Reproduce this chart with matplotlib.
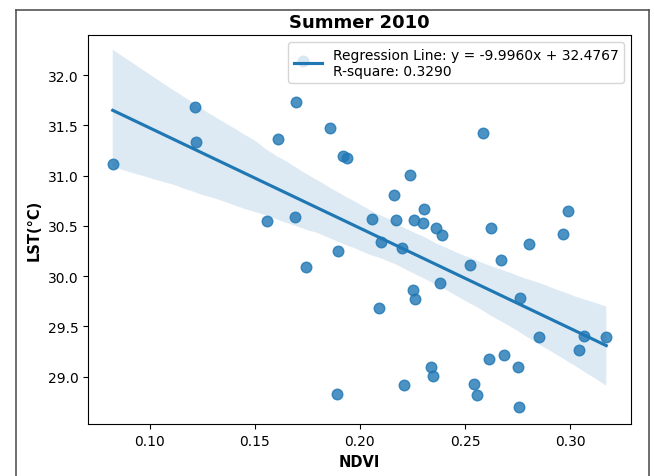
import numpy as np
import matplotlib
matplotlib.use("Agg")
import matplotlib.pyplot as plt
from matplotlib.lines import Line2D
import seaborn as sns

# =========================================================
# DONNEES
# =========================================================

ndvi = [0.0825, 0.1214, 0.1220, 0.1610, 0.1560, 0.1730, 0.1695, 0.1857, 0.1918, 0.1937,
        0.2240, 0.2160, 0.2306, 0.1690, 0.2056, 0.2170, 0.2259, 0.2300, 0.2360, 0.2390,
        0.2587, 0.2987, 0.2624, 0.2964, 0.1746, 0.1895, 0.2098, 0.2198, 0.2524, 0.2380,
        0.2254, 0.2260, 0.2092, 0.2338, 0.2348, 0.2208, 0.1890, 0.2540, 0.2556, 0.2805,
        0.2670, 0.2759, 0.2852, 0.3065, 0.3171, 0.3040, 0.2614, 0.2687, 0.2749, 0.2754]

lst = [31.120, 31.685, 31.340, 31.370, 30.550, 32.140, 31.730, 31.470, 31.200, 31.180,
       31.005, 30.810, 30.670, 30.585, 30.570, 30.555, 30.555, 30.530, 30.475, 30.410,
       31.430, 30.647, 30.478, 30.425, 30.093, 30.250, 30.340, 30.280, 30.116, 29.937,
       29.864, 29.771, 29.685, 29.095, 29.008, 28.915, 28.830, 28.925, 28.820, 30.325,
       30.166, 29.780, 29.396, 29.406, 29.396, 29.270, 29.177, 29.217, 29.100, 28.700]

title = "Summer 2010"
legend_label = "Regression Line: y = -9.9960x + 32.4767\nR-square: 0.3290"

# =========================================================
# FIGURE
# =========================================================

fig = plt.figure(figsize=(6.54, 4.77), dpi=100)
ax = fig.add_axes([0.1346, 0.108, 0.8302, 0.8165])

sns.regplot(x=np.array(ndvi), y=np.array(lst), ax=ax, ci=95, seed=3,
            scatter_kws={"s": 58},
            line_kws={"label": legend_label})

ax.set_title(title, fontsize=13, fontweight="bold")
ax.set_xlabel("NDVI", fontsize=10.5, fontweight="bold")
ax.set_ylabel("LST(°C)", fontsize=10.5, fontweight="bold")
ax.set_xticks([0.10, 0.15, 0.20, 0.25, 0.30])
ax.set_yticks([29.0, 29.5, 30.0, 30.5, 31.0, 31.5, 32.0])
ax.set_ylim(28.525, 32.4)
ax.legend(loc="upper right", fontsize=10)

# cadre exterieur (capture d'ecran)
frame_kw = dict(color="#555555", linewidth=1.2, transform=fig.transFigure)
fig.add_artist(Line2D([0.0245, 0.0245], [0.0, 0.977], **frame_kw))
fig.add_artist(Line2D([0.0245, 0.9924], [0.977, 0.977], **frame_kw))
fig.add_artist(Line2D([0.9924, 0.9924], [0.0, 0.977], **frame_kw))

fig.savefig("out.png", dpi=100)
